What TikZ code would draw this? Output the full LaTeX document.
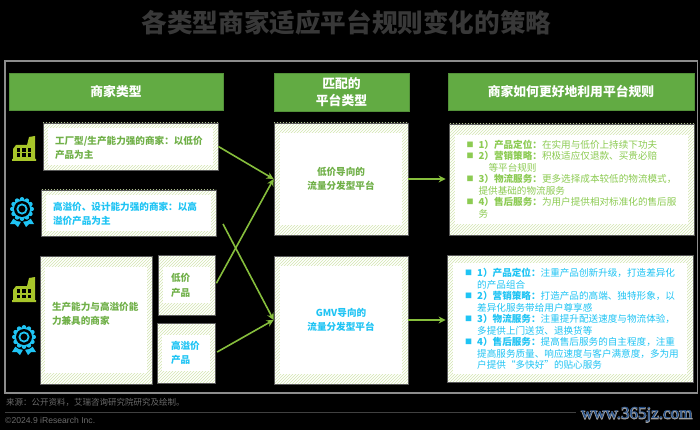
\documentclass[tikz,border=0pt]{standalone}
\usepackage{fontspec}
\setmainfont{Noto Sans CJK SC}
\newfontfamily\latinfont{Liberation Sans}
\newfontfamily\markfont{Liberation Serif}
\newfontfamily\markhalo[FakeBold=6]{Liberation Serif}
\usetikzlibrary{arrows.meta,patterns}
\definecolor{headgreen}{HTML}{62AB43}
\definecolor{textgreen}{HTML}{70B048}
\definecolor{lightgreen}{HTML}{8CCB52}
\definecolor{textblue}{HTML}{1FC4F4}
\definecolor{hatchgreen}{HTML}{D3E6B0}
\definecolor{linegreen}{HTML}{86BE3C}
\definecolor{limeicon}{HTML}{A8C62A}
\definecolor{markblue}{HTML}{1F4E8C}
\tikzset{
  headbox/.style={draw=headgreen!85!black,fill=headgreen,text=white,align=center,
    font=\fontsize{12.8}{17}\selectfont\bfseries},
  hatchbox/.style 2 args={draw=black!65,line width=0.8pt,preaction={fill=white},
    pattern=north east lines,pattern color=hatchgreen,
    path picture={\fill[white] ([shift={(#1,#2)}]path picture bounding box.north west)
      rectangle ([shift={(-#1,-#2)}]path picture bounding box.south east);}},
  boxtext/.style={font=\fontsize{9.6}{14.5}\selectfont\bfseries,align=left},
  tactictext/.style={font=\fontsize{9.6}{11.5}\selectfont,align=left},
  flow/.style={draw=linegreen,line width=1.6pt,-{Stealth[length=7pt,width=7pt]}},
  factory/.pic={
    \fill[limeicon] (0,25)--(0,23)--(1,23)--(1,13)--(4,9)--(15,9)--(17,1)--(23,0)--(23,23)--(24,23)--(24,25)--cycle;
    \foreach \i in {0,1,2} \foreach \j in {0,1}
      \fill[black] (4.5+\i*5.5,12+\j*5.5) rectangle +(3.8,3.8);
  },
  rosette/.pic={
    \fill[textblue] (5,19)--(0,27)--(5,27)--(8,30)--(12,23)--cycle;
    \fill[textblue] (19,19)--(24,27)--(19,27)--(16,30)--(12,23)--cycle;
    \fill[black] (12,12) circle (13);
    \foreach \a in {0,30,...,330}
      \fill[textblue] (12,12)++(\a:9.8) circle (2.2);
    \fill[textblue] (12,12) circle (10);
    \fill[black] (12,12) circle (8);
    \draw[textblue,line width=1.8pt] (12,12) circle (4.6);
  }
}
\newcommand{\blt}[1]{\makebox[12pt][l]{\raisebox{1pt}{\fontsize{7}{7}\selectfont■}}#1}
\newcommand{\cont}{\hspace*{12pt}}
\begin{document}
\begin{tikzpicture}[x=1pt,y=-1pt]
\useasboundingbox[fill=black] (0,0) rectangle (700,430);
\node[text=black!78,font=\fontsize{25.6}{30}\selectfont\bfseries] (title) at (346.5,23) {各类型商家适应平台规则变化的策略};
\draw[black!45,line width=1.2pt] (5,61) rectangle (697.5,393);
% headers
\node[headbox,minimum width=214,minimum height=37] (headA) at (116,91.5) {商家类型};
\node[headbox,minimum width=135,minimum height=38] (headB) at (341.5,92) {匹配的\\平台类型};
\node[headbox,minimum width=246,minimum height=37] (headC) at (571,91.5) {商家如何更好地利用平台规则};
% merchant types
\node[hatchbox={5}{5},minimum width=175,minimum height=47] (typeFactory) at (130.5,146.5) {};
\node[boxtext,text=textgreen,text width=151] (typeFactoryText) at (130.5,148) {工厂型/生产能力强的商家：以低价\\产品为主};
\node[hatchbox={5}{5},minimum width=175,minimum height=46] (typeDesign) at (128.5,213) {};
\node[boxtext,text=textblue,text width=151] (typeDesignText) at (128.5,214) {高溢价、设计能力强的商家：以高\\溢价产品为主};
\node[hatchbox={5}{11},minimum width=112,minimum height=128] (typeBoth) at (96,320) {};
\node[boxtext,text=textgreen,text width=88] (typeBothText) at (96,314) {生产能力与高溢价能\\力兼具的商家};
\node[hatchbox={5}{12},minimum width=57,minimum height=60] (prodLow) at (186.5,285) {};
\node[boxtext,text=textgreen,text width=31] (prodLowText) at (186.5,285.5) {低价\\产品};
\node[hatchbox={5}{12},minimum width=58,minimum height=60] (prodHigh) at (186,353) {};
\node[boxtext,text=textblue,text width=30] (prodHighText) at (186,353) {高溢价\\产品};
% platforms
\node[hatchbox={6}{10},minimum width=134,minimum height=112,boxtext,align=center,text=textgreen] (platLow) at (341,179) {低价导向的\\流量分发型平台};
\node[hatchbox={6}{10},minimum width=134,minimum height=128,boxtext,align=center,text=textblue] (platHigh) at (341,320) {GMV导向的\\流量分发型平台};
% tactics
\node[hatchbox={6}{11},minimum width=245,minimum height=111] (tacticLow) at (571.5,179.5) {};
\node[tactictext,text=lightgreen] (tacticLowText) at (571.5,179) {%
\blt{\textbf{1）产品定位：}在实用与低价上持续下功夫}\\
\blt{\textbf{2）营销策略：}积极适应仅退款、买贵必赔}\\
\hspace*{22pt}等平台规则\\
\blt{\textbf{3）物流服务：}更多选择成本较低的物流模式，}\\
\cont 提供基础的物流服务\\
\blt{\textbf{4）售后服务：}为用户提供相对标准化的售后服}\\
\cont 务};
\node[hatchbox={6}{8},minimum width=246,minimum height=127] (tacticHigh) at (570,318.5) {};
\node[tactictext,text=textblue] (tacticHighText) at (572,319) {%
\blt{\textbf{1）产品定位：}注重产品创新升级，打造差异化}\\
\cont 的产品组合\\
\blt{\textbf{2）营销策略：}打造产品的高端、独特形象，以}\\
\cont 差异化服务带给用户尊享感\\
\blt{\textbf{3）物流服务：}注重提升配送速度与物流体验，}\\
\cont 多提供上门送货、退换货等\\
\blt{\textbf{4）售后服务：}提高售后服务的自主程度，注重}\\
\cont 提高服务质量、响应速度与客户满意度，多为用\\
\cont 户提供“多快好”的贴心服务};
% arrows
\coordinate (crossStart) at (223,224);
\draw[flow] (typeFactory.east) -- (platLow.west);
\draw[flow,shorten <=2pt] (prodLow.east) -- (platLow.west);
\draw[flow] (crossStart) -- (platHigh.west);
\draw[flow,shorten <=2pt] (prodHigh.east) -- (platHigh.west);
\draw[flow,shorten >=3pt] (platLow.east) -- (platLow.east -| tacticLow.west);
\draw[flow,shorten >=1pt] (platHigh.east) -- (platHigh.east -| tacticHigh.west);
% icons
\pic at (12,136) {factory};
\pic at (10,197) {rosette};
\pic at (12,277) {factory};
\pic at (12,325) {rosette};
% footer
\node[anchor=west,inner sep=0pt,text=black!58,font=\fontsize{8.5}{10}\selectfont] (source) at (6,402) {来源：公开资料，艾瑞咨询研究院研究及绘制。};
\coordinate (ruleStart) at (5,412);
\coordinate (ruleEnd) at (576,412);
\draw[black!75,line width=0.7pt] (ruleStart) -- (ruleEnd);
\node[anchor=west,inner sep=0pt,text=black!58,font=\fontsize{8.6}{10}\selectfont\latinfont] (copyright) at (5,420) {©2024.9 iResearch Inc.};
\node[anchor=east,inner sep=0pt,text=black!38,font=\fontsize{17}{19}\selectfont\markhalo] (markShade) at (692.5,415) {www.365jz.com};
\node[anchor=east,inner sep=0pt,text=markblue,font=\fontsize{17}{19}\selectfont\markfont] (mark) at (692.5,415) {www.365jz.com};
\end{tikzpicture}
\end{document}
